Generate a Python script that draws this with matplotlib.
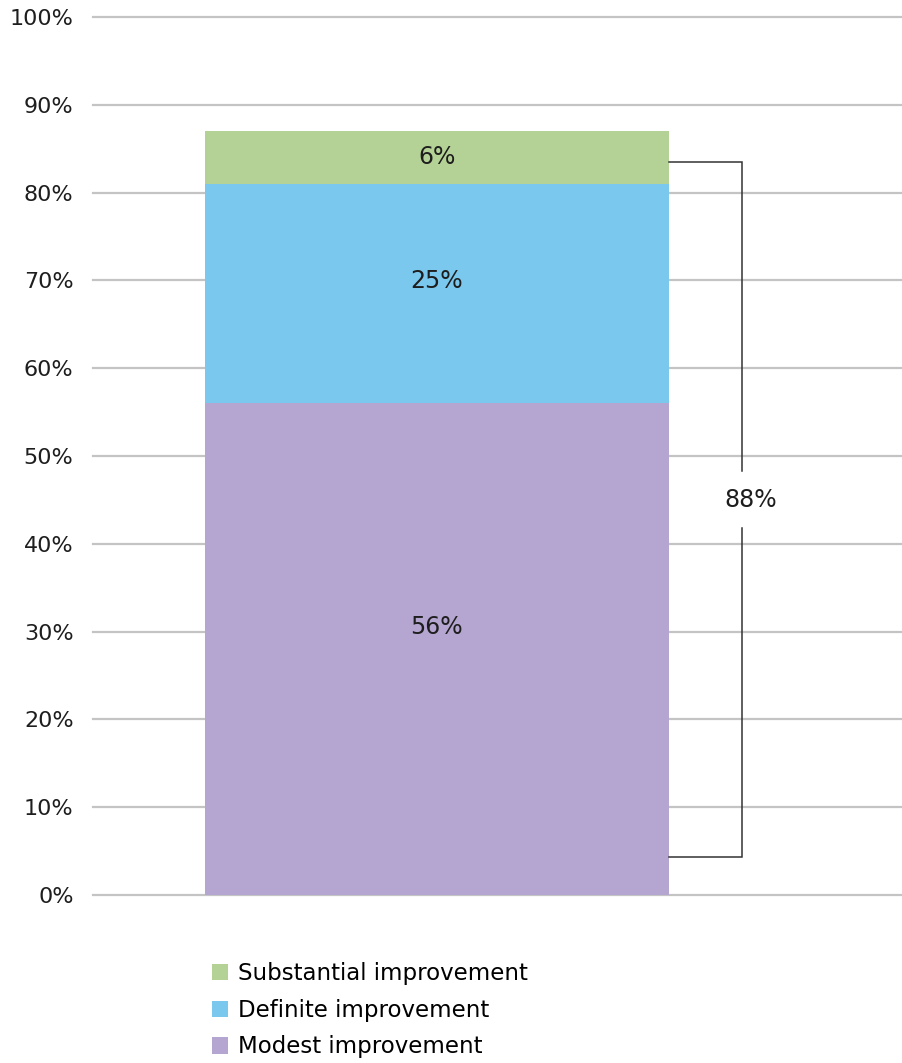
import numpy as np
import matplotlib.pyplot as plt
from matplotlib.patches import Patch

# stacked shares, bottom to top
categories = ['Modest improvement', 'Definite improvement', 'Substantial improvement']
values = [56, 25, 6]
labels = ['56%', '25%', '6%']
colors = ['#b5a5d1', '#7bc8ee', '#b5d296']
total_label = '88%'
yticks = list(range(0, 101, 10))

plt.rcParams['font.family'] = ['DejaVu Sans']

fig = plt.figure(figsize=(9.03, 10.63), dpi=100)
ax = fig.add_axes([93/903, 1 - 895/1063, 810/903, 878/1063])

bottom = 0
nudge = [2.5, 1.4, 0.0]  # labels sit a little above the segment middle
for cat, val, lab, col, nd in zip(categories, values, labels, colors, nudge):
    ax.bar(0, val, width=1.0, bottom=bottom, color=col, zorder=3)
    ax.text(0, bottom + val / 2 + nd, lab, ha='center', va='center', fontsize=17, color='#1e1e1e', zorder=4)
    bottom += val

# bracket around the total
bx = 0.657
top_y, low_y = 83.5, 4.3
mid_y = 45.0
ax.plot([0.5, bx, bx], [top_y, top_y, mid_y + 3.3], color='#333333', lw=1.1, zorder=4, solid_joinstyle='miter')
ax.plot([bx, bx, 0.5], [mid_y - 3.2, low_y, low_y], color='#333333', lw=1.1, zorder=4, solid_joinstyle='miter')
ax.text(bx + 0.02, mid_y, total_label, ha='center', va='center', fontsize=17, color='#1e1e1e')

ax.set_xlim(-0.741, 1.005)
ax.set_ylim(0, 100)
ax.set_yticks(yticks)
ax.set_yticklabels([f'{t}%' for t in yticks], fontsize=16, color='#1e1e1e')
ax.tick_params(axis='y', length=0, pad=14)
ax.set_xticks([])
ax.grid(axis='y', color='#c4c4c4', lw=1.6, zorder=0)
for gl in ax.yaxis.get_gridlines():
    gl.set_clip_on(False)
for s in ax.spines.values():
    s.set_visible(False)

handles = [Patch(facecolor=c, edgecolor='none') for c in colors[::-1]]
fig.legend(handles, categories[::-1], loc='upper left', bbox_to_anchor=(212/903, 1 - 962/1063),
           frameon=False, fontsize=16.5, handlelength=0.72, handleheight=0.72, handletextpad=0.4,
           labelspacing=0.6, borderpad=0, borderaxespad=0)

fig.savefig('out.png', dpi=100)
